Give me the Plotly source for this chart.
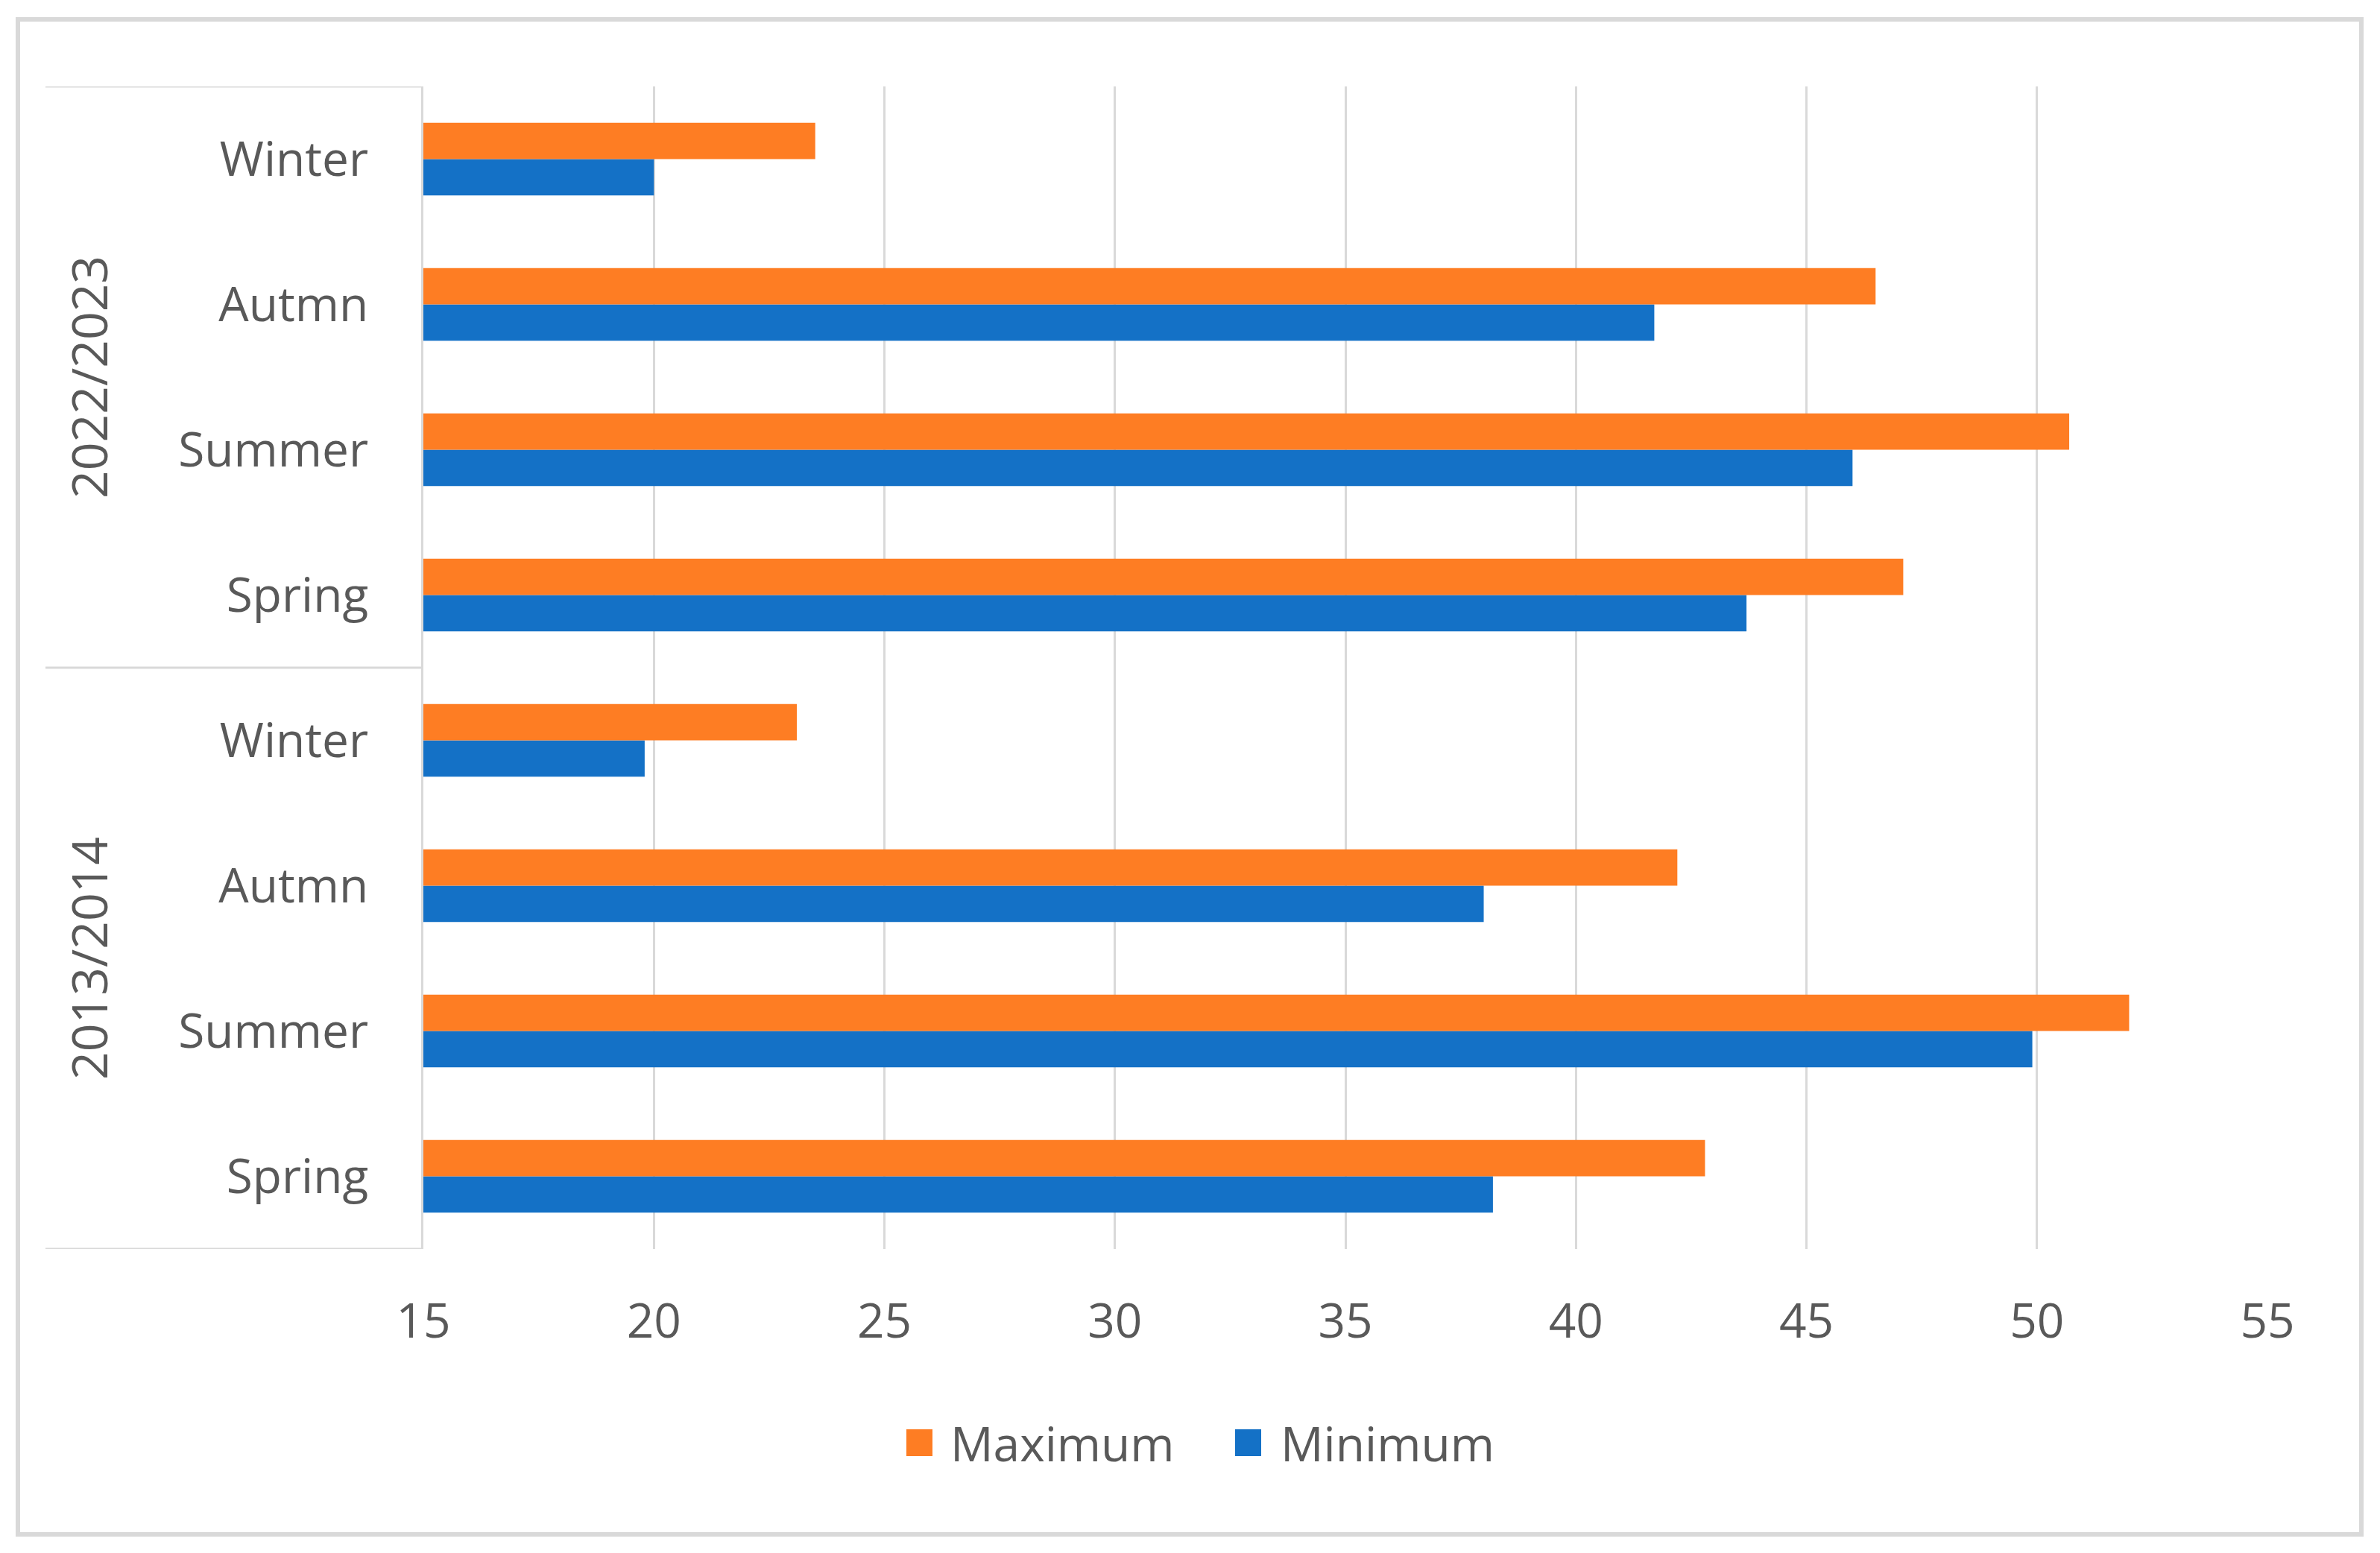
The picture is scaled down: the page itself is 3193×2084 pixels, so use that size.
import plotly.graph_objects as go

groups = ["2013/2014", "2022/2023"]
seasons = ["Spring", "Summer", "Autmn", "Winter"]
maximum_2013 = [42.8, 52.0, 42.2, 23.1]
minimum_2013 = [38.2, 49.9, 38.0, 19.8]
maximum_2022 = [47.1, 50.7, 46.5, 23.5]
minimum_2022 = [43.7, 46.0, 41.7, 20.0]
x_ticks = [15, 20, 25, 30, 35, 40, 45, 50, 55]

ORANGE = "#FE7D23"
BLUE = "#1471C6"
GRID = "#D9D9D9"
TXT = "#595959"
FONT = "Open Sans"
FS = 64

cats = [f"{g} {s}" for g in groups for s in seasons]
labels = [s for g in groups for s in seasons]
max_vals = maximum_2013 + maximum_2022
min_vals = minimum_2013 + minimum_2022

OFF = 8  # page body margin
W, H = 3193, 2084
L, R, T, B = 568 - OFF, 151 + OFF, 116 - OFF, 408 + OFF
PW, PH = W - L - R, H - T - B

def px(x):
    return (x - OFF - L) / PW

def py(y):
    return (H - B - (y - OFF)) / PH

fig = go.Figure()
fig.add_trace(go.Bar(y=cats, x=min_vals, orientation="h", name="Minimum",
                     marker=dict(color=BLUE, line=dict(width=0)), showlegend=False))
fig.add_trace(go.Bar(y=cats, x=max_vals, orientation="h", name="Maximum",
                     marker=dict(color=ORANGE, line=dict(width=0)), showlegend=False))

fig.update_layout(
    width=W, height=H,
    margin=dict(l=L, r=R, t=T, b=B),
    paper_bgcolor="white", plot_bgcolor="white",
    barmode="group", bargap=0.5, bargroupgap=0,
    font=dict(family=FONT, size=FS, color=TXT),
    xaxis=dict(range=[15, 55], tickvals=x_ticks, showgrid=True, gridcolor=GRID,
               gridwidth=3, zeroline=False, showline=False, ticks="",
               ticklabelstandoff=54, tickfont=dict(size=FS, color=TXT)),
    yaxis=dict(type="category", categoryorder="array", categoryarray=cats,
               tickvals=cats, ticktext=labels, range=[-0.5, 7.5],
               showgrid=False, showline=True, linecolor=GRID, linewidth=3,
               ticks="", ticklabelstandoff=58, tickfont=dict(size=FS, color=TXT)),
)

# category group dividers
for yb in [-0.5, 3.5, 7.5]:
    fig.add_shape(type="line", xref="paper", yref="y", x0=px(61), x1=0, y0=yb, y1=yb,
                  line=dict(color=GRID, width=3))

# group labels
for i, g in enumerate(groups):
    fig.add_annotation(text=g, xref="paper", yref="y", x=px(118), y=i * 4 + 1.5,
                       textangle=-90, showarrow=False, xanchor="center", yanchor="middle",
                       font=dict(family=FONT, size=FS + 2, color=TXT))

# legend (manual, Excel-like square keys)
legend_items = [("Maximum", ORANGE, 1216, 1273), ("Minimum", BLUE, 1657, 1716)]
for name, col, sx, tx in legend_items:
    fig.add_shape(type="rect", xref="paper", yref="paper",
                  x0=px(sx), x1=px(sx + 35), y0=py(1918), y1=py(1954),
                  fillcolor=col, line=dict(width=0))
    fig.add_annotation(text=name, xref="paper", yref="paper", x=px(tx), y=py(1936),
                       xanchor="left", yanchor="middle", showarrow=False,
                       font=dict(family=FONT, size=FS, color=TXT))

# chart border
fig.add_shape(type="rect", xref="paper", yref="paper",
              x0=px(24), x1=px(3168), y0=py(26), y1=py(2059),
              line=dict(color=GRID, width=6), fillcolor="rgba(0,0,0,0)", layer="below")

fig.write_html("out.html")
